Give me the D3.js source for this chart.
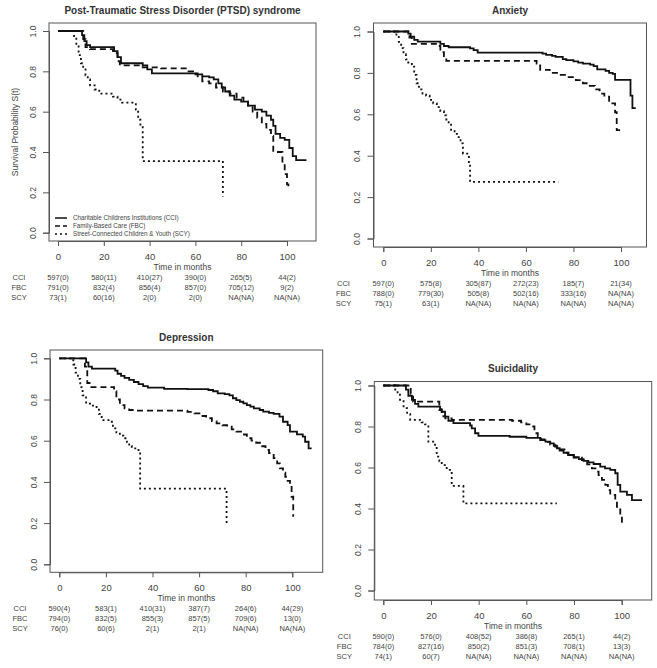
<!DOCTYPE html>
<html lang="en">
    <head>
        <meta charset="utf-8">
        <title>Kaplan-Meier curves by care group</title>
        <script type="text/javascript" src="https://d3js.org/d3.v7.min.js"></script>
        <style>
            body { margin: 0; background: #fff; }
            text { font-family: "Liberation Sans", Arial, sans-serif; fill: #444; }
        </style>
    </head>
    <body>
		<script type="text/javascript">

            var w = 657;
			var h = 668;

			// ---- data ----
			var groups = ["CCI", "FBC", "SCY"];
			var legendLabels = ["Charitable Childrens Institutions (CCI)",
								"Family-Based Care (FBC)",
								"Street-Connected Children & Youth (SCY)"];
			var titles = ["Post-Traumatic Stress Disorder (PTSD) syndrome", "Anxiety", "Depression", "Suicidality"];
			var timeTicks = [0, 20, 40, 60, 80, 100];
			var survTicks = [0, 0.2, 0.4, 0.6, 0.8, 1.0];

			// [month, survival]
			var ptsdCCI = [[0,1],[10.5,0.98],[11.5,0.95],[12.5,0.93],[14,0.92],[24.5,0.9],[26,0.87],[27.5,0.84],[37,0.83],[39,0.81],[41,0.79],[60,0.785],[63,0.775],[66,0.77],[68,0.76],[70,0.74],[71.5,0.72],[73,0.70],[75,0.68],[77,0.66],[80,0.65],[83,0.63],[86,0.61],[89,0.6],[91,0.58],[93,0.56],[94,0.53],[95,0.49],[97,0.47],[99,0.46],[101,0.42],[102.5,0.38],[104,0.36],[108.5,0.36]];
			var ptsdFBC = [[0,1],[11,0.96],[12,0.92],[14,0.91],[24,0.89],[26,0.85],[27,0.83],[37,0.82],[45,0.815],[57,0.80],[59,0.79],[61,0.77],[63,0.75],[66,0.74],[69,0.72],[72,0.70],[75,0.69],[78,0.67],[81,0.65],[83,0.63],[85,0.60],[87,0.57],[89,0.54],[91,0.51],[93,0.48],[94,0.40],[97,0.40],[98,0.34],[99,0.29],[100,0.24],[100.6,0.23]];
			var ptsdSCY = [[0,1],[7,0.97],[8,0.93],[9,0.88],[10,0.84],[11,0.81],[12,0.78],[13,0.76],[14,0.73],[16,0.71],[18,0.69],[24,0.675],[26,0.66],[28,0.645],[34,0.61],[35,0.56],[36,0.53],[37,0.355],[72,0.18]];

			var anxCCI = [[0,1],[10.5,0.99],[11.5,0.975],[13,0.96],[14.5,0.951],[24,0.94],[25.5,0.93],[27.5,0.924],[36.5,0.918],[38,0.91],[39.7,0.898],[67,0.893],[68.5,0.887],[71,0.882],[72.5,0.877],[75.5,0.867],[77,0.862],[80,0.856],[82,0.85],[84,0.845],[87,0.84],[88.5,0.833],[90,0.817],[93.5,0.81],[95,0.8],[96.5,0.795],[97.5,0.766],[104,0.69],[104.8,0.63],[106.2,0.63]];
			var anxFBC = [[0,1],[11,0.97],[12,0.94],[22.8,0.93],[24,0.9],[25.5,0.87],[26.5,0.858],[64.5,0.845],[66,0.815],[70,0.80],[74,0.79],[77,0.78],[81,0.765],[84,0.75],[86,0.737],[89,0.72],[91,0.70],[93,0.685],[95,0.653],[97.5,0.61],[98.2,0.524],[99.6,0.524]];
			var anxSCY = [[0,1],[5.5,0.98],[6.5,0.95],[7.5,0.92],[8.5,0.89],[9.5,0.865],[10.5,0.85],[12,0.83],[13,0.79],[14,0.75],[15,0.72],[16.5,0.70],[18,0.69],[19.5,0.67],[21,0.653],[22.5,0.635],[24,0.615],[25.5,0.595],[26.5,0.575],[27.5,0.55],[28.5,0.525],[30,0.505],[31,0.49],[32.5,0.46],[33.5,0.41],[36,0.36],[36.5,0.274],[73.6,0.274]];

			var depCCI = [[0,1],[11.5,0.98],[12.5,0.96],[14,0.95],[24,0.94],[25,0.925],[26.5,0.915],[28,0.905],[30,0.895],[32,0.885],[34,0.875],[36,0.865],[38,0.858],[45,0.852],[55,0.85],[64,0.846],[66,0.84],[68,0.83],[71,0.826],[73,0.82],[74.5,0.806],[76,0.797],[77.5,0.789],[79,0.781],[80.5,0.773],[82,0.765],[83.5,0.757],[86,0.749],[87.5,0.741],[90,0.735],[92,0.73],[94.5,0.717],[96,0.692],[98,0.676],[99,0.644],[102,0.631],[104.5,0.62],[105.5,0.595],[107,0.563],[108.3,0.563]];
			var depFBC = [[0,1],[11,0.96],[12,0.88],[13,0.86],[23.5,0.84],[24.5,0.8],[26,0.773],[28,0.757],[30,0.749],[32,0.746],[55,0.74],[58,0.733],[61,0.72],[63,0.709],[65.5,0.695],[67.5,0.684],[70,0.675],[72,0.668],[74,0.655],[76,0.644],[78,0.63],[80.5,0.612],[82.5,0.6],[84.5,0.59],[86.5,0.573],[88.5,0.555],[90,0.54],[92,0.515],[93.5,0.49],[94.7,0.466],[96,0.445],[97,0.425],[98,0.405],[99,0.385],[99.7,0.328],[100.4,0.231]];
			var depSCY = [[0,1],[6,0.97],[7,0.93],[8,0.9],[9,0.86],[10,0.82],[11.5,0.78],[14,0.77],[16,0.757],[17,0.73],[18.2,0.70],[21.8,0.692],[23,0.66],[24.5,0.64],[26,0.625],[27.5,0.612],[29,0.59],[30,0.575],[31.1,0.563],[34,0.547],[34.7,0.367],[71.8,0.191]];

			var suiCCI = [[0,1],[9.5,0.98],[10.5,0.95],[12,0.93],[13.3,0.91],[14.7,0.897],[23.8,0.885],[24.5,0.872],[25.9,0.848],[27.3,0.828],[29.4,0.816],[36.4,0.805],[37.1,0.791],[38.5,0.767],[39.9,0.754],[53,0.75],[60,0.745],[65.8,0.734],[68,0.726],[70,0.718],[71.5,0.706],[72.8,0.694],[74,0.683],[75.6,0.672],[77.5,0.661],[79.8,0.65],[82,0.641],[84,0.632],[86,0.625],[88.2,0.617],[91,0.604],[93,0.596],[95.2,0.588],[97.3,0.572],[98.3,0.515],[99.4,0.482],[102.2,0.466],[104.3,0.441],[108.5,0.441]];
			var suiFBC = [[0,1],[11.5,0.96],[12.5,0.921],[23.5,0.88],[24.5,0.85],[26,0.84],[28.7,0.832],[54,0.828],[57.8,0.82],[60,0.81],[62,0.8],[63.4,0.767],[64.8,0.75],[66.2,0.737],[68,0.725],[70,0.712],[72,0.702],[74,0.688],[76,0.672],[77.7,0.66],[80,0.648],[83.3,0.636],[85.5,0.615],[87.5,0.596],[89,0.58],[90.3,0.563],[91.7,0.54],[93.1,0.515],[94.2,0.49],[95.2,0.466],[97.3,0.441],[98,0.408],[99.4,0.36],[100.1,0.319]];
			var suiSCY = [[0,1],[5,0.98],[6,0.955],[7,0.93],[8.5,0.89],[10,0.86],[11.3,0.832],[16.1,0.82],[17.5,0.81],[18.9,0.726],[21.7,0.71],[22.4,0.653],[23.5,0.63],[24.5,0.612],[26.6,0.588],[28.7,0.51],[33.6,0.425],[72.8,0.425]];

			// number at risk (events) under each time tick, rows CCI / FBC / SCY
			var ptsdRisk = [["597(0)","580(11)","410(27)","390(0)","265(5)","44(2)"],
							["791(0)","832(4)","856(4)","857(0)","705(12)","9(2)"],
							["73(1)","60(16)","2(0)","2(0)","NA(NA)","NA(NA)"]];
			var anxRisk = [["597(0)","575(8)","305(87)","272(23)","185(7)","21(34)"],
						   ["788(0)","779(30)","505(8)","502(16)","333(16)","NA(NA)"],
						   ["75(1)","63(1)","NA(NA)","NA(NA)","NA(NA)","NA(NA)"]];
			var depRisk = [["590(4)","583(1)","410(31)","387(7)","264(6)","44(29)"],
						   ["794(0)","832(5)","855(3)","857(5)","709(6)","13(0)"],
						   ["76(0)","60(6)","2(1)","2(1)","NA(NA)","NA(NA)"]];
			var suiRisk = [["590(0)","576(0)","408(52)","386(8)","265(1)","44(2)"],
						   ["784(0)","827(16)","850(2)","851(3)","708(1)","13(3)"],
						   ["74(1)","60(7)","NA(NA)","NA(NA)","NA(NA)","NA(NA)"]];

			// ---- layout (pixel boxes, where 0/100 months and S=0/1 fall) ----
			var panels = [
				{title: titles[0], series: [ptsdCCI, ptsdFBC, ptsdSCY], risk: ptsdRisk, legend: true, ylab: true,
				 l: 49, t: 23, r: 316, b: 241, x0: 58, x100: 287, y0: 232.7, y1: 31},
				{title: titles[1], series: [anxCCI, anxFBC, anxSCY], risk: anxRisk,
				 l: 373.5, t: 23, r: 646.5, b: 247, x0: 383.3, x100: 621, y0: 238.5, y1: 31.5},
				{title: titles[2], series: [depCCI, depFBC, depSCY], risk: depRisk,
				 l: 50, t: 350, r: 322.7, b: 572.3, x0: 59.3, x100: 292.3, y0: 564.3, y1: 358.3},
				{title: titles[3], series: [suiCCI, suiFBC, suiSCY], risk: suiRisk,
				 l: 374.3, t: 381.5, r: 651.7, b: 600, x0: 383.3, x100: 621.7, y0: 590.5, y1: 385.5}
			];

			var dashes = ["none", "6,4", "2,3"];

			var svg = d3.select("body")
						.append("svg")
						.attr("width", w)
						.attr("height", h);

			panels.forEach(function(p) {

				var xScale = d3.scaleLinear().domain([0, 100]).range([p.x0, p.x100]);
				var yScale = d3.scaleLinear().domain([0, 1]).range([p.y0, p.y1]);

				var g = svg.append("g");

				// plot frame
				g.append("rect")
					.attr("x", p.l)
					.attr("y", p.t)
					.attr("width", p.r - p.l)
					.attr("height", p.b - p.t)
					.attr("fill", "none")
					.attr("stroke", "#555")
					.attr("stroke-width", 1);

				// title
				g.append("text")
					.attr("x", (p.l + p.r) / 2)
					.attr("y", p.t - 13)
					.attr("text-anchor", "middle")
					.attr("dy", "0.35em")
					.style("font-size", "10px")
					.style("font-weight", "bold")
					.style("fill", "#333")
					.text(p.title);

				// axes
				var xAxis = d3.axisBottom(xScale)
							.tickValues(timeTicks)
							.tickSizeOuter(0)
							.tickSize(5)
							.tickFormat(d3.format("d"));

				var yAxis = d3.axisLeft(yScale)
							.tickValues(survTicks)
							.tickSizeOuter(0)
							.tickSize(6)
							.tickFormat(d3.format(".1f"));

				var gx = g.append("g")
					.attr("transform", "translate(0," + p.b + ")")
					.call(xAxis);
				gx.selectAll("text")
					.attr("y", 15.5)
					.attr("dy", "0.35em")
					.style("font-size", "9.5px")
					.style("fill", "#444");

				var gy = g.append("g")
					.attr("transform", "translate(" + p.l + ",0)")
					.call(yAxis);
				gy.selectAll("text")
					.attr("x", 0)
					.attr("y", 0)
					.attr("dy", "0.35em")
					.attr("text-anchor", "middle")
					.attr("transform", "translate(-16,0) rotate(-90)")
					.style("font-size", "8.5px")
					.style("fill", "#444");

				g.selectAll(".domain, .tick line").attr("stroke", "#555");

				// x label
				g.append("text")
					.attr("x", (p.l + p.r) / 2)
					.attr("y", p.b + 26)
					.attr("dy", "0.35em")
					.attr("text-anchor", "middle")
					.style("font-size", "8.5px")
					.text("Time in months");

				if (p.ylab) {
					g.append("text")
						.attr("transform", "translate(15," + ((p.t + p.b) / 2) + ") rotate(-90)")
						.attr("text-anchor", "middle")
						.attr("dy", "0.35em")
						.style("font-size", "8.5px")
						.text("Survival Probability S(t)");
				}

				// KM step curves
				var line = d3.line()
							.curve(d3.curveStepAfter)
							.x(function(d) { return xScale(d[0]); })
							.y(function(d) { return yScale(d[1]); });

				g.selectAll("path.km")
					.data(p.series)
					.enter()
					.append("path")
					.attr("class", "km")
					.attr("fill", "none")
					.attr("stroke", "#111")
					.attr("stroke-width", 1.8)
					.attr("stroke-dasharray", function(d, i) { return dashes[i]; })
					.attr("d", line);

				// risk table
				p.risk.forEach(function(row, ri) {
					g.append("text")
						.attr("x", p.l - 30)
						.attr("y", p.b + 36 + ri * 10)
						.attr("dy", "0.35em")
						.attr("text-anchor", "middle")
						.style("font-size", "7.5px")
						.text(groups[ri]);

					g.selectAll(null)
						.data(row)
						.enter()
						.append("text")
						.attr("x", function(d, i) { return xScale(timeTicks[i]); })
						.attr("y", p.b + 36 + ri * 10)
						.attr("dy", "0.35em")
						.attr("text-anchor", "middle")
						.style("font-size", "7.5px")
						.text(function(d) { return d; });
				});

				// legend (first panel only)
				if (p.legend) {
					legendLabels.forEach(function(lab, i) {
						var ly = p.b - 23 + i * 8;
						g.append("line")
							.attr("x1", p.l + 6)
							.attr("x2", p.l + 18)
							.attr("y1", ly)
							.attr("y2", ly)
							.attr("stroke", "#111")
							.attr("stroke-width", 1.5)
							.attr("stroke-dasharray", i == 1 ? "5,3" : dashes[i]);
						g.append("text")
							.attr("x", p.l + 24)
							.attr("y", ly)
							.attr("dy", "0.35em")
							.style("font-size", "6.3px")
							.text(lab);
					});
				}
			});

        </script>
    </body>
</html>
